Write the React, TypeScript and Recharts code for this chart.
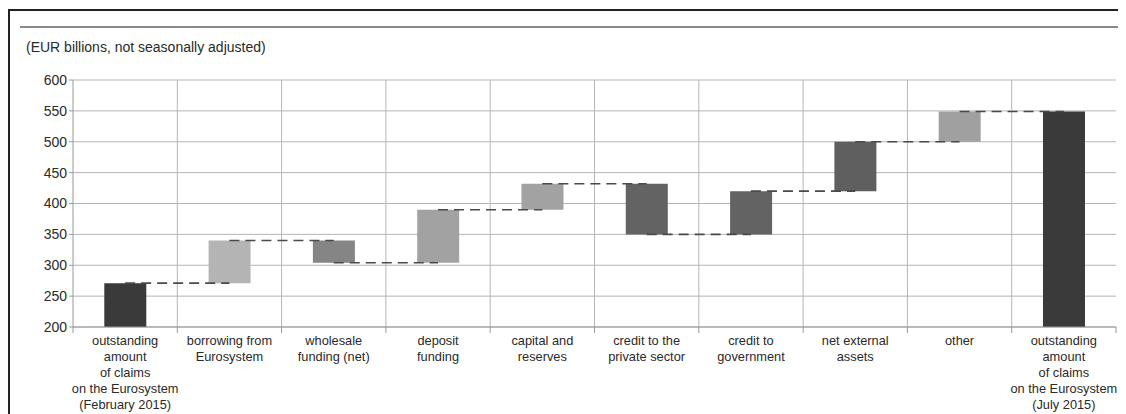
import { ComposedChart, Bar, Cell, XAxis, YAxis, CartesianGrid, ReferenceLine } from "recharts";

// waterfall: each bar goes from start to end value
const categories = [
  "outstanding\namount\nof claims\non the Eurosystem\n(February 2015)",
  "borrowing from\nEurosystem",
  "wholesale\nfunding (net)",
  "deposit\nfunding",
  "capital and\nreserves",
  "credit to the\nprivate sector",
  "credit to\ngovernment",
  "net external\nassets",
  "other",
  "outstanding\namount\nof claims\non the Eurosystem\n(July 2015)",
];
const startValues = [0, 271, 340, 304, 390, 432, 350, 420, 500, 0];
const endValues = [271, 340, 304, 390, 432, 350, 420, 500, 549, 549];
const barColors = ["#3a3a3a", "#b4b4b4", "#858585", "#a2a2a2", "#a2a2a2", "#636363", "#636363", "#5f5f5f", "#a0a0a0", "#3a3a3a"];
const yTicks = [200, 250, 300, 350, 400, 450, 500, 550, 600];

const Y_MIN = 200;
const Y_MAX = 600;

const CHART_W = 1118;
const CHART_H = 406;
const MARGIN = { top: 72, right: 10, left: 0, bottom: 0 };
const Y_AXIS_W = 65;
const PLOT_W = CHART_W - MARGIN.left - MARGIN.right - Y_AXIS_W;
const STEP = PLOT_W / categories.length;

const FONT = "'Liberation Sans', Arial, sans-serif";

const data = categories.map((name, i) => ({
  name,
  range: [Math.max(startValues[i], Y_MIN), endValues[i]],
}));

function CategoryTick(props: any) {
  const { x, y, payload, index } = props;
  const lines = String(payload.value).split("\n");
  return (
    <g>
      <line x1={x - STEP / 2} y1={y - 8} x2={x - STEP / 2} y2={y - 2} stroke="#999" />
      {index === categories.length - 1 && (
        <line x1={x + STEP / 2} y1={y - 8} x2={x + STEP / 2} y2={y - 2} stroke="#999" />
      )}
      <text x={x} y={y + 10} textAnchor="middle" fontSize={12.8} fill="#2a2a2a" fontFamily={FONT}>
        {lines.map((l, i) => (
          <tspan key={i} x={x} dy={i === 0 ? 0 : 16}>
            {l}
          </tspan>
        ))}
      </text>
    </g>
  );
}

export default function App() {
  return (
    <div style={{ position: "relative", width: CHART_W, height: 406, borderTop: "2px solid #222", borderLeft: "2px solid #222", boxSizing: "border-box", fontFamily: FONT, marginTop: 1 }}>
      <div style={{ position: "absolute", left: 10, top: 15, width: 1120, borderTop: "2px solid #8a8a8a" }} />
      <div style={{ position: "absolute", left: 16, top: 28, fontSize: 14, color: "#2a2a2a" }}>
        (EUR billions, not seasonally adjusted)
      </div>
      <div style={{ position: "absolute", left: -2, top: -3 }}>
        <ComposedChart width={CHART_W} height={CHART_H} data={data} margin={MARGIN} barCategoryGap="30%">
          <CartesianGrid
            stroke="#b5b5b5"
            verticalCoordinatesGenerator={({ offset }: any) =>
              categories.slice(1).map((_, i) => offset.left + (i + 1) * (offset.width / categories.length))
            }
          />
          <XAxis
            dataKey="name"
            interval={0}
            height={CHART_H - MARGIN.top - 247}
            tick={<CategoryTick />}
            tickLine={false}
            axisLine={{ stroke: "#999" }}
          />
          <YAxis
            type="number"
            domain={[Y_MIN, Y_MAX]}
            ticks={yTicks}
            allowDataOverflow
            width={Y_AXIS_W}
            tick={{ fontSize: 14, fill: "#2a2a2a", fontFamily: FONT }}
            tickLine={{ stroke: "#999" }}
            tickSize={4}
            axisLine={{ stroke: "#999" }}
          />
          <Bar dataKey="range" isAnimationActive={false}>
            {data.map((_, i) => (
              <Cell key={i} fill={barColors[i]} />
            ))}
          </Bar>
          {endValues.slice(0, -1).map((v, i) => (
            <ReferenceLine
              key={i}
              segment={[
                { x: categories[i], y: v },
                { x: categories[i + 1], y: v },
              ]}
              stroke="#4a4a4a"
              strokeWidth={1.6}
              strokeDasharray="10 6"
            />
          ))}
        </ComposedChart>
      </div>
    </div>
  );
}
